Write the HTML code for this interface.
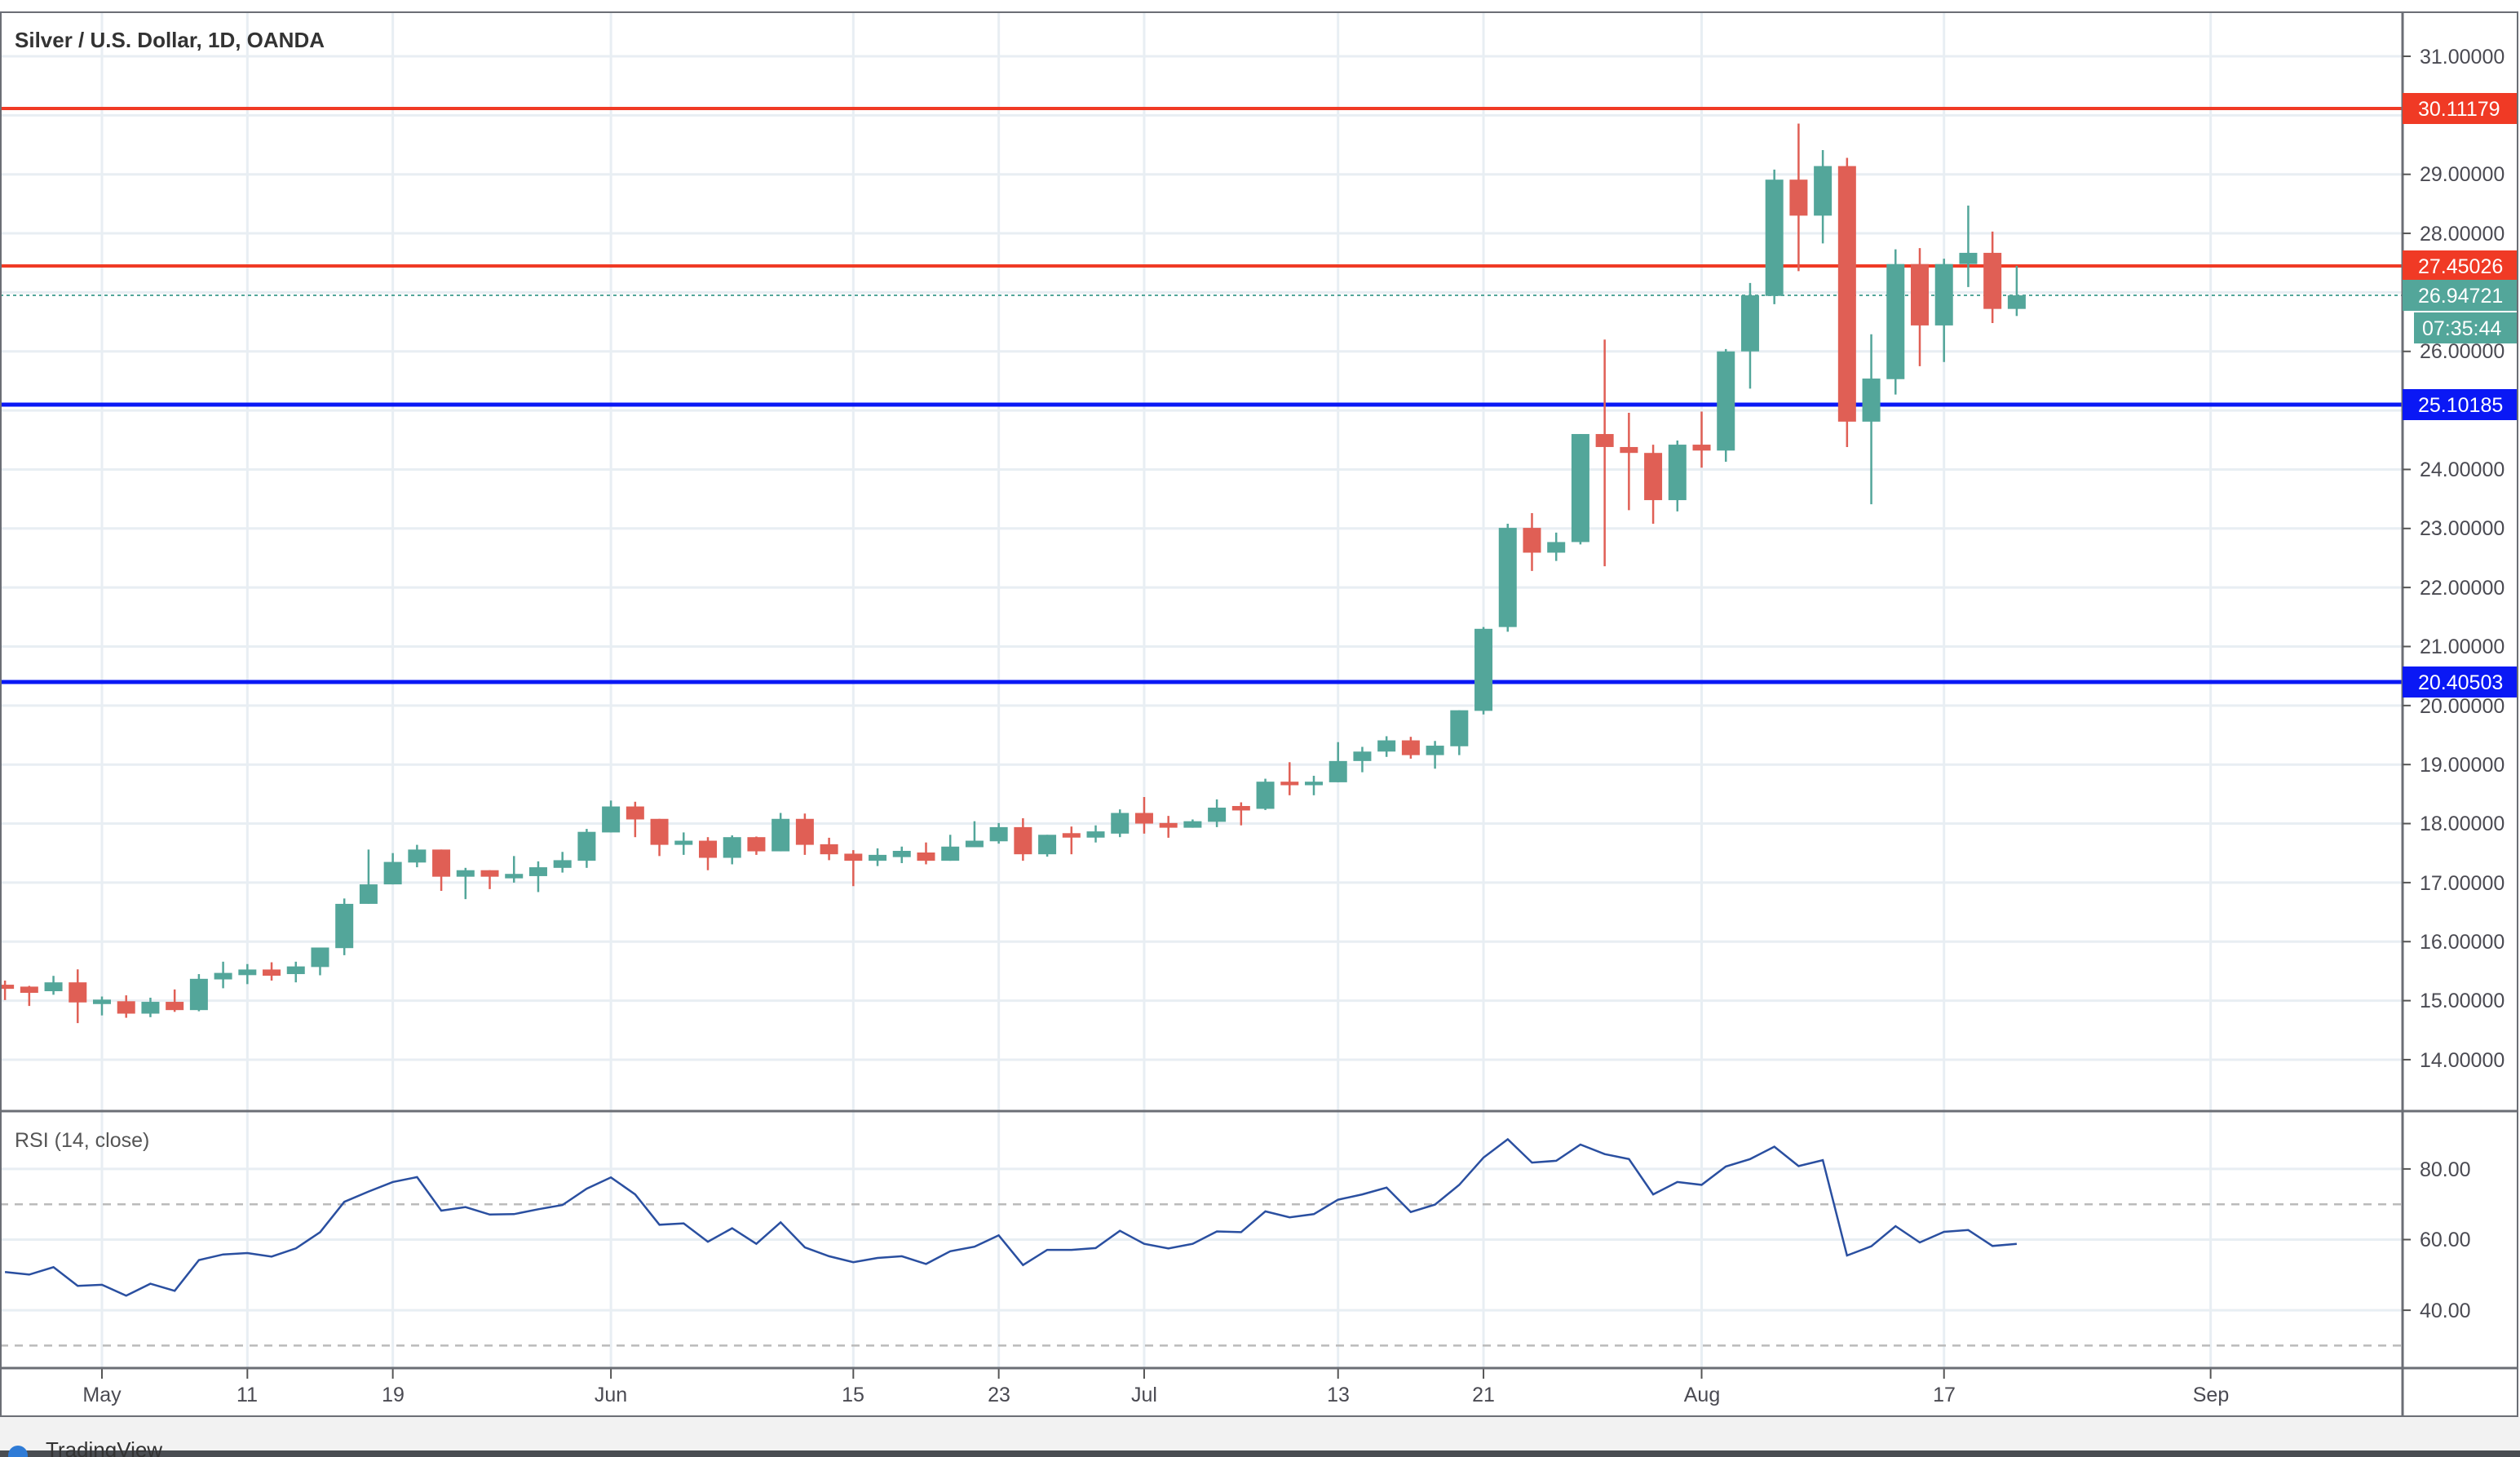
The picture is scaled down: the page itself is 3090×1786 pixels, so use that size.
<!DOCTYPE html>
<html><head><meta charset="utf-8"><style>
html,body{margin:0;padding:0;background:#fff;}
body{width:3090px;height:1786px;overflow:hidden;position:relative;font-family:"Liberation Sans",sans-serif;}
svg{position:absolute;left:0;top:0;}
</style></head><body>
<svg id="s" width="3090" height="1786" xmlns="http://www.w3.org/2000/svg" font-family="Liberation Sans, sans-serif">
<rect x="0" y="0" width="3090" height="1786" fill="#fff"/>
<g id="grid"></g>
<g id="lines"></g>
<g id="candles"></g>
<g id="rsi"></g>
<g id="axes"></g>
<text x="18" y="58" font-size="26" font-weight="bold" fill="#333">Silver / U.S. Dollar, 1D, OANDA</text>
<text x="18" y="1406" font-size="25" fill="#555">RSI (14, close)</text>
<g font-size="25" fill="#4a4a52">
<text x="2967" y="78">31.00000</text>
<text x="2967" y="222">29.00000</text>
<text x="2967" y="295">28.00000</text>
<text x="2967" y="439">26.00000</text>
<text x="2967" y="584">24.00000</text>
<text x="2967" y="656">23.00000</text>
<text x="2967" y="729">22.00000</text>
<text x="2967" y="801">21.00000</text>
<text x="2967" y="874">20.00000</text>
<text x="2967" y="946">19.00000</text>
<text x="2967" y="1018">18.00000</text>
<text x="2967" y="1091">17.00000</text>
<text x="2967" y="1163">16.00000</text>
<text x="2967" y="1235">15.00000</text>
<text x="2967" y="1308">14.00000</text>
<text x="2967" y="1442">80.00</text>
<text x="2967" y="1528">60.00</text>
<text x="2967" y="1615">40.00</text>
</g>
<g font-size="25" fill="#4a4a52" text-anchor="middle">
<text x="125" y="1718">May</text>
<text x="303" y="1718">11</text>
<text x="482" y="1718">19</text>
<text x="749" y="1718">Jun</text>
<text x="1046" y="1718">15</text>
<text x="1225" y="1718">23</text>
<text x="1403" y="1718">Jul</text>
<text x="1641" y="1718">13</text>
<text x="1819" y="1718">21</text>
<text x="2087" y="1718">Aug</text>
<text x="2384" y="1718">17</text>
<text x="2711" y="1718">Sep</text>
</g>
<g id="labels" font-size="25" fill="#fff">
<rect x="2946" y="114" width="140" height="38" fill="#f03a25"/><text x="2965" y="142">30.11179</text>
<rect x="2946" y="307" width="140" height="38" fill="#f03a25"/><text x="2965" y="335">27.45026</text>
<rect x="2946" y="343" width="140" height="38" fill="#53a69a"/><text x="2965" y="371">26.94721</text>
<rect x="2960" y="383" width="126" height="38" fill="#53a69a"/><text x="2970" y="411">07:35:44</text>
<rect x="2946" y="477" width="140" height="38" fill="#0a18f5"/><text x="2965" y="505">25.10185</text>
<rect x="2946" y="817" width="140" height="38" fill="#0a18f5"/><text x="2965" y="845">20.40503</text>
</g>
<rect x="0" y="1737" width="3090" height="41" fill="#f2f2f2"/>
<rect x="0" y="1778" width="3090" height="8" fill="#4a4d52"/>
<text x="56" y="1786" font-size="26" fill="#333">TradingView</text>
<circle cx="22" cy="1784" r="12" fill="#2f7bd6"/>
</svg>
<script>
var NS="http://www.w3.org/2000/svg";
function el(p,t,a){var e=document.createElementNS(NS,t);for(var k in a)e.setAttribute(k,a[k]);document.getElementById(p).appendChild(e);return e;}
function py(p){return 69+(31-p)*72.35;}
function ry(v){return 1519.5-(v-60)*4.33;}
function bx(i){return 125+i*29.72;}
// grid
for(var p=14;p<=31;p++){el("grid","line",{x1:0,x2:2946,y1:py(p),y2:py(p),stroke:"#e8eef3","stroke-width":3});}
[80,60,40].forEach(function(v){el("grid","line",{x1:0,x2:2946,y1:ry(v),y2:ry(v),stroke:"#e8eef3","stroke-width":3});});
[0,6,12,21,31,37,43,51,57,66,76,87].forEach(function(i){var x=bx(i);el("grid","line",{x1:x,x2:x,y1:14,y2:1677,stroke:"#e8eef3","stroke-width":3});
el("axes","line",{x1:x,x2:x,y1:1677,y2:1690,stroke:"#555","stroke-width":2});});
[70,30].forEach(function(v){el("grid","line",{x1:0,x2:2946,y1:ry(v),y2:ry(v),stroke:"#bbb","stroke-width":2.5,"stroke-dasharray":"10 8"});});
// level lines
el("lines","line",{x1:0,x2:2946,y1:133,y2:133,stroke:"#f03a25","stroke-width":4});
el("lines","line",{x1:0,x2:2946,y1:326,y2:326,stroke:"#f03a25","stroke-width":4});
el("lines","line",{x1:0,x2:2946,y1:496,y2:496,stroke:"#0a18f5","stroke-width":5});
el("lines","line",{x1:0,x2:2946,y1:836,y2:836,stroke:"#0a18f5","stroke-width":5});
el("lines","line",{x1:0,x2:2946,y1:362,y2:362,stroke:"#53a69a","stroke-width":2,"stroke-dasharray":"4 4"});
// OHLC from i=-4
var D=[
[15.27,15.34,15.01,15.20],[15.21,15.25,14.91,15.16],[15.16,15.42,15.10,15.31],[15.31,15.53,14.62,14.97],
[14.97,15.07,14.75,14.99],[14.99,15.09,14.71,14.78],[14.78,15.05,14.72,14.98],[14.98,15.19,14.81,14.84],
[14.84,15.45,14.82,15.37],[15.36,15.66,15.21,15.47],[15.46,15.62,15.28,15.50],[15.50,15.65,15.34,15.45],
[15.45,15.66,15.31,15.58],[15.57,15.90,15.43,15.90],[15.89,16.73,15.77,16.64],[16.64,17.56,16.64,16.97],
[16.97,17.50,16.97,17.35],[17.34,17.64,17.26,17.56],[17.56,17.56,16.86,17.10],[17.10,17.25,16.72,17.21],
[17.21,17.21,16.89,17.10],[17.10,17.45,17.00,17.12],[17.11,17.36,16.84,17.26],[17.25,17.52,17.17,17.38],
[17.37,17.91,17.25,17.86],[17.85,18.39,17.85,18.29],[18.29,18.37,17.77,18.07],[18.08,18.08,17.45,17.64],
[17.64,17.85,17.47,17.71],[17.71,17.77,17.21,17.42],[17.42,17.80,17.31,17.77],[17.77,17.78,17.47,17.53],
[17.53,18.18,17.53,18.08],[18.08,18.17,17.47,17.64],
[17.65,17.76,17.38,17.48],[17.49,17.55,16.94,17.37],[17.37,17.58,17.28,17.47],[17.46,17.61,17.33,17.51],
[17.51,17.68,17.31,17.37],[17.37,17.81,17.37,17.61],[17.60,18.04,17.60,17.71],[17.70,18.01,17.66,17.94],
[17.94,18.09,17.37,17.48],[17.48,17.81,17.44,17.81],[17.81,17.95,17.48,17.79],[17.79,17.97,17.68,17.84],
[17.83,18.24,17.77,18.18],[18.18,18.45,17.83,18.00],[18.01,18.13,17.76,17.93],[17.93,18.07,17.93,18.04],
[18.03,18.41,17.94,18.27],[18.27,18.36,17.97,18.25],[18.25,18.76,18.23,18.71],[18.71,19.04,18.48,18.65],
[18.65,18.81,18.48,18.71],[18.70,19.38,18.70,19.06],[19.06,19.30,18.87,19.22],[19.22,19.48,19.13,19.41],
[19.41,19.47,19.10,19.16],[19.16,19.40,18.93,19.32],[19.31,19.92,19.16,19.92],[19.91,21.33,19.85,21.30],
[21.33,23.08,21.25,23.01],[23.01,23.26,22.28,22.59],[22.59,22.93,22.45,22.77],[22.77,24.60,22.73,24.60],
[24.60,26.20,22.36,24.38],[24.38,24.96,23.31,24.28],[24.28,24.42,23.08,23.48],[23.48,24.49,23.29,24.42],
[24.42,24.98,24.03,24.32],[24.32,26.04,24.13,26.00],[26.00,27.16,25.37,26.95],[26.94,29.08,26.80,28.91],
[28.91,29.86,27.36,28.30],[28.30,29.41,27.83,29.14],[29.14,29.28,24.38,24.81],[24.81,26.29,23.41,25.54],
[25.53,27.73,25.27,27.48],[27.48,27.75,25.75,26.44],[26.44,27.57,25.82,27.48],[27.48,28.47,27.09,27.67],
[27.67,28.03,26.48,26.72],[26.72,27.45,26.60,26.95]];
D.forEach(function(d,k){var i=k-4,x=bx(i),o=d[0],h=d[1],l=d[2],c=d[3];
var col=c>=o?"#53a69a":"#e05f55";
el("candles","line",{x1:x,x2:x,y1:py(h),y2:py(l),stroke:col,"stroke-width":2.5});
var t=py(Math.max(o,c)),b=py(Math.min(o,c));if(b-t<4){t-=2;b+=2;}
el("candles","rect",{x:x-11,y:t,width:22,height:b-t,fill:col});});
var R=[50.8,50.1,52.2,46.9,47.2,44.1,47.5,45.5,54.2,55.8,56.2,55.2,57.5,62.1,70.7,73.6,76.3,77.7,68.2,69.2,67.1,67.2,68.6,69.8,74.4,77.6,72.8,64.2,64.6,59.4,63.2,58.8,64.9,57.8,55.3,53.6,54.8,55.3,53.1,56.7,58.0,61.2,52.8,57.1,57.1,57.6,62.5,58.8,57.5,58.8,62.3,62.1,68.0,66.3,67.2,71.3,72.8,74.7,67.8,69.9,75.5,83.2,88.4,81.8,82.3,86.9,84.2,82.8,72.8,76.3,75.5,80.7,82.8,86.3,80.8,82.5,55.5,58.1,63.8,59.2,62.2,62.7,58.2,58.8];
var pts=R.map(function(v,k){return bx(k-4).toFixed(1)+","+ry(v).toFixed(1);}).join(" ");
el("rsi","polyline",{points:pts,fill:"none",stroke:"#2a4fa0","stroke-width":2.5});
// frame
el("axes","line",{x1:0,x2:3088,y1:15,y2:15,stroke:"#6b6e75","stroke-width":2});
el("axes","line",{x1:1,x2:1,y1:14,y2:1737,stroke:"#6b6e75","stroke-width":2});
el("axes","line",{x1:3087,x2:3087,y1:14,y2:1737,stroke:"#6b6e75","stroke-width":2});
el("axes","line",{x1:2946,x2:2946,y1:14,y2:1737,stroke:"#6b6e75","stroke-width":3});
el("axes","line",{x1:0,x2:3088,y1:1362,y2:1362,stroke:"#6b6e75","stroke-width":3});
el("axes","line",{x1:0,x2:3088,y1:1677,y2:1677,stroke:"#6b6e75","stroke-width":3});
el("axes","line",{x1:0,x2:3088,y1:1736,y2:1736,stroke:"#6b6e75","stroke-width":2});
[31,29,28,26,24,23,22,21,20,19,18,17,16,15,14].forEach(function(p){el("axes","line",{x1:2946,x2:2956,y1:py(p),y2:py(p),stroke:"#555","stroke-width":2});});
[80,60,40].forEach(function(v){el("axes","line",{x1:2946,x2:2956,y1:ry(v),y2:ry(v),stroke:"#555","stroke-width":2});});
</script>
</body></html>
